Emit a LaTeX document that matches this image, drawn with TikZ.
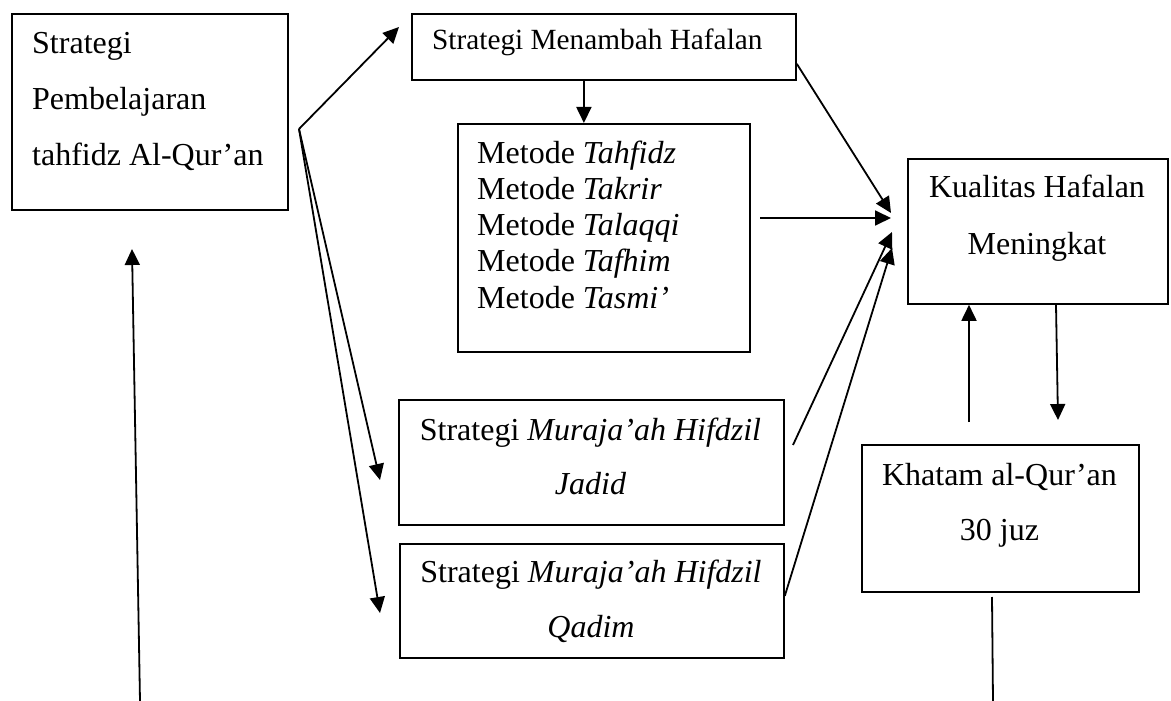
\documentclass[tikz,border=0pt]{standalone}
\usepackage{fontspec}
\setmainfont{Liberation Serif}
\usetikzlibrary{arrows.meta}
\tikzset{
  kasten/.style={draw, line width=1.8pt, inner sep=0pt, anchor=north west},
  txt/.style={inner sep=0pt, font=\fontsize{32}{#1}\selectfont},
  linie/.style={line width=1.8pt},
  pfeil/.style={linie, -{Triangle[length=16pt,width=15pt]}}
}
\begin{document}
\begin{tikzpicture}[x=1pt,y=-1pt]
  \useasboundingbox (0,0) rectangle (1171,701);
  % Kasten Strategi Pembelajaran
  \node[kasten, minimum width=276pt, minimum height=196pt] (strategi) at (11,13) {};
  \node[txt=56, anchor=north west, align=left] (strategitxt) at (32,13.8)
    {\strut Strategi\\\strut Pembelajaran\\\strut tahfidz Al-Qur’an};
  % Kasten Menambah Hafalan
  \node[kasten, minimum width=384pt, minimum height=66pt] (menambah) at (411,13) {};
  \node[inner sep=0pt, anchor=base west, font=\fontsize{29.3}{34}\selectfont]
    (menambahtxt) at (432,50) {Strategi Menambah Hafalan};
  % Kasten Metode
  \node[kasten, minimum width=292pt, minimum height=228pt] (metode) at (457,123) {};
  \node[txt=36.25, anchor=north west, align=left] (metodetxt) at (477,137.6)
    {\strut Metode \textit{Tahfidz}\\\strut Metode \textit{Takrir}\\
     \strut Metode \textit{Talaqqi}\\\strut Metode \textit{Tafhim}\\
     \strut Metode \textit{Tasmi’}};
  % Kasten Muraja'ah Jadid
  \node[kasten, minimum width=385pt, minimum height=125pt] (jadid) at (398,399) {};
  \node[txt=54, anchor=north, align=center] (jadidtxt) at (590.5,402.2)
    {\strut Strategi \textit{Muraja’ah Hifdzil}\\\strut\textit{Jadid}};
  % Kasten Muraja'ah Qadim
  \node[kasten, minimum width=384pt, minimum height=114pt] (qadim) at (399,543) {};
  \node[txt=55, anchor=north, align=center] (qadimtxt) at (591,543.5)
    {\strut Strategi \textit{Muraja’ah Hifdzil}\\\strut\textit{Qadim}};
  % Kasten Kualitas
  \node[kasten, minimum width=260pt, minimum height=145pt] (kualitas) at (907,158) {};
  \node[txt=57, anchor=north, align=center] (kualitastxt) at (1037,157.1)
    {\strut Kualitas Hafalan\\\strut Meningkat};
  % Kasten Khatam
  \node[kasten, minimum width=277pt, minimum height=147pt] (khatam) at (861,444) {};
  \node[txt=55, anchor=north, align=center] (khatamtxt) at (999.5,446.5)
    {\strut Khatam al-Qur’an\\\strut 30 juz};
  % freie Enden
  \coordinate (fan) at (299,129);
  \coordinate (zuMenambah) at (399,27);
  \coordinate (zuJadid) at (380,480);
  \coordinate (zuQadim) at (380,613);
  \coordinate (ausMetode) at (760,218);
  \coordinate (ausJadid) at (793,445);
  \coordinate (ziel1) at (891,213);
  \coordinate (ziel2) at (891,218);
  \coordinate (ziel3) at (892,232);
  \coordinate (ziel4) at (892,248);
  \coordinate (ausKhatam) at (969,422);
  \coordinate (zuKhatam) at (1058,420);
  \coordinate (unten1) at (140,701);
  \coordinate (oben1) at (132,249);
  \coordinate (khatamunten) at (992,597);
  \coordinate (unten2) at (993,701);
  % Pfeile vom Verzweigungspunkt
  \draw[pfeil] (fan) -- (zuMenambah);
  \draw[pfeil] (fan) -- (zuJadid);
  \draw[pfeil] (fan) -- (zuQadim);
  % Pfeile zur Kualitas
  \draw[pfeil] ([xshift=-20pt]menambah.south) -- ([xshift=-20pt]metode.north);
  \draw[pfeil] ([yshift=17pt]menambah.south east) -- (ziel1);
  \draw[pfeil] (ausMetode) -- (ziel2);
  \draw[pfeil] (ausJadid) -- (ziel3);
  \draw[pfeil] ([yshift=5pt]qadim.east) -- (ziel4);
  % Kualitas und Khatam
  \draw[pfeil] (ausKhatam) -- (ausKhatam |- kualitas.south);
  \draw[pfeil] (kualitas.south -| 1056,0) -- (zuKhatam);
  % lange Linien unten
  \draw[pfeil] (unten1) -- (oben1);
  \draw[linie] (khatamunten) -- (unten2);
\end{tikzpicture}
\end{document}
